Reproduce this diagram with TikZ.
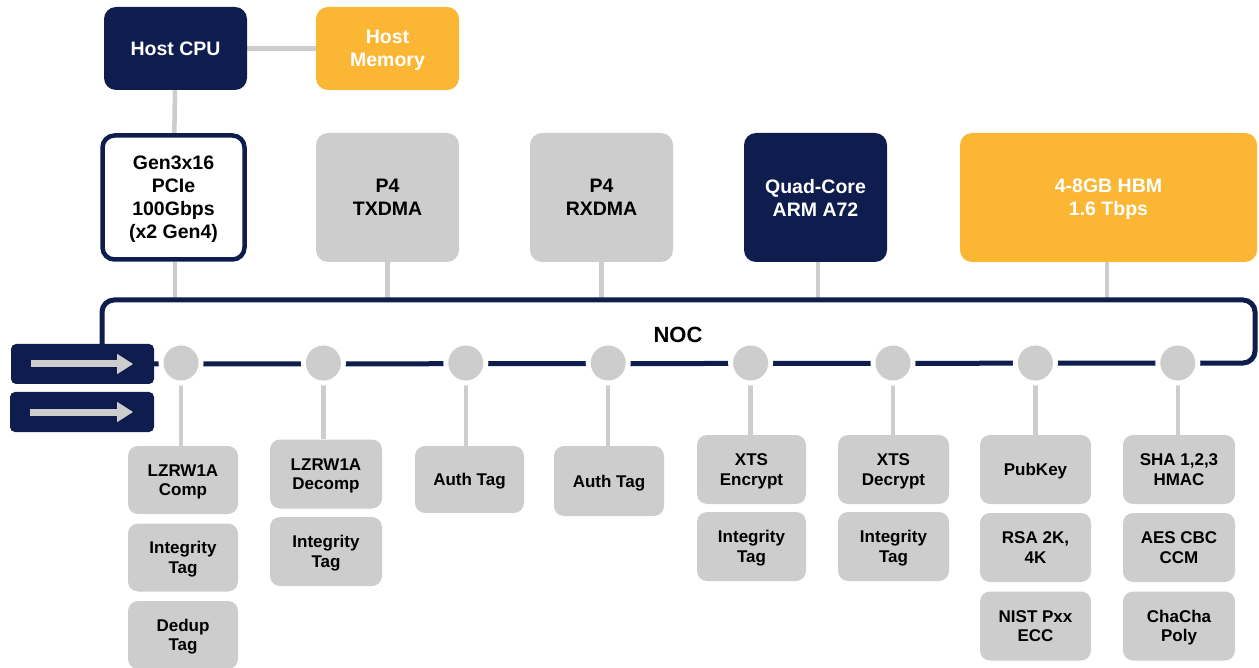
\documentclass[tikz,border=0pt]{standalone}
\usepackage{fontspec}
\setmainfont{Liberation Sans}
\usetikzlibrary{arrows.meta}
\definecolor{navy}{RGB}{14,29,78}
\definecolor{orng}{RGB}{251,182,52}
\definecolor{cgray}{RGB}{205,205,205}
\pgfdeclarelayer{bg}
\pgfsetlayers{bg,main}
\begin{document}
\begin{tikzpicture}[x=1pt,y=-1pt,
  bigbox/.style={rounded corners=12pt, minimum width=143pt, minimum height=129pt, inner sep=0pt, align=center, text depth=-3pt, font=\fontsize{19.5}{23}\selectfont\bfseries},
  navybox/.style={bigbox, fill=navy, text=white},
  orngbox/.style={bigbox, fill=orng, text=white},
  graybox/.style={bigbox, fill=cgray, text=black},
  smallbox/.style={rounded corners=10pt, fill=cgray, minimum width=110pt, minimum height=68pt, inner sep=0pt, align=center, text depth=-4pt, font=\fontsize{17}{19.5}\selectfont\bfseries},
  arrbox/.style={rounded corners=5pt, fill=navy, minimum width=143pt, minimum height=40pt, inner sep=0pt},
  dot/.style={circle, minimum size=35pt, inner sep=0pt, fill=cgray, preaction={draw=white, line width=10pt}},
  gline/.style={draw=cgray, line width=4.5pt},
  nline/.style={draw=navy, line width=5pt},
  garrow/.style={draw=cgray, line width=7pt, -{Triangle[length=16pt,width=19pt]}}
]
\useasboundingbox (0,0) rectangle (1259,668);
% top boxes
\node[navybox, minimum height=83pt] (cpu) at (175.5,48.5) {Host CPU};
\node[orngbox, minimum height=83pt] (mem) at (387.5,48.5) {Host\\Memory};
\node[bigbox, fill=white, draw=navy, line width=4.5pt, minimum width=142pt, minimum height=124pt] (pcie) at (173.5,197.5) {Gen3x16\\PCIe\\100Gbps\\(x2 Gen4)};
\node[graybox] (tx) at (387.5,197.5) {P4\\TXDMA};
\node[graybox] (rx) at (601.5,197.5) {P4\\RXDMA};
\node[navybox] (arm) at (815.5,197.5) {Quad-Core\\ARM A72};
\node[orngbox, minimum width=297pt] (hbm) at (1108.5,197.5) {4-8GB HBM\\1.6 Tbps};
\coordinate (noctop) at (0,300);
\node[font=\fontsize{22}{26}\selectfont\bfseries, text depth=0pt] (noc) at (678,334.5) {NOC};
% arrow boxes
\node[arrbox] (ar1) at (82.5,364) {};
\node[arrbox, minimum width=144pt] (ar2) at (82,412) {};
\draw[garrow] ([xshift=20pt]ar1.west) -- ([xshift=-21pt]ar1.east);
\draw[garrow] ([xshift=20pt]ar2.west) -- ([xshift=-21pt]ar2.east);
% circles
\foreach \i/\x in {1/181,2/323.4,3/465.8,4/608.2,5/750.6,6/893,7/1035.4,8/1177.8}{
  \node[dot] (c\i) at (\x,363) {};
}
% small boxes
\node[smallbox] (a1) at (183,480) {LZRW1A\\Comp};
\node[smallbox] (a2) at (183,557.5) {Integrity\\Tag};
\node[smallbox] (a3) at (183,635) {Dedup\\Tag};
\node[smallbox, minimum width=112pt, minimum height=69pt] (b1) at (326,474) {LZRW1A\\Decomp};
\node[smallbox, minimum width=112pt, minimum height=69pt] (b2) at (326,551.5) {Integrity\\Tag};
\node[smallbox, minimum width=109pt, minimum height=67pt] (d1) at (469.5,479.5) {Auth Tag};
\node[smallbox, minimum height=70pt] (e1) at (609,481) {Auth Tag};
\node[smallbox, minimum width=109pt, minimum height=69pt] (f1) at (751.5,469.5) {XTS\\Encrypt};
\node[smallbox, minimum width=109pt, minimum height=69pt] (f2) at (751.5,546.5) {Integrity\\Tag};
\node[smallbox, minimum width=111pt, minimum height=69pt] (g1) at (893.5,469.5) {XTS\\Decrypt};
\node[smallbox, minimum width=111pt, minimum height=69pt] (g2) at (893.5,546.5) {Integrity\\Tag};
\node[smallbox, minimum width=111pt, minimum height=69pt] (h1) at (1035.5,469.5) {PubKey};
\node[smallbox, minimum width=111pt, minimum height=69pt] (h2) at (1035.5,547.5) {RSA 2K,\\4K};
\node[smallbox, minimum width=111pt, minimum height=69pt] (h3) at (1035.5,626) {NIST Pxx\\ECC};
\node[smallbox, minimum width=112pt, minimum height=69pt] (k1) at (1179,469.5) {SHA 1,2,3\\HMAC};
\node[smallbox, minimum width=112pt, minimum height=69pt] (k2) at (1179,547.5) {AES CBC\\CCM};
\node[smallbox, minimum width=112pt, minimum height=69pt] (k3) at (1179,626) {ChaCha\\Poly};
% connectors
\begin{pgfonlayer}{bg}
\draw[gline] (cpu) -- (mem);
\draw[gline] (cpu) -- (pcie);
\draw[gline] ([xshift=1.5pt]pcie.south) -- ([xshift=1.5pt]pcie.south |- noctop);
\draw[gline] (tx.south) -- (tx.south |- noctop);
\draw[gline] (rx.south) -- (rx.south |- noctop);
\draw[gline] ([xshift=2.5pt]arm.south) -- ([xshift=2.5pt]arm.south |- noctop);
\draw[gline] ([xshift=-1.5pt]hbm.south) -- ([xshift=-1.5pt]hbm.south |- noctop);
\draw[nline, rounded corners=12pt] (ar1.north -| 102,0) -- (102,300) -- (1255,300) -- (1255,363) -- (ar1.east);
\foreach \c/\b in {c1/a1,c2/b1,c3/d1,c4/e1,c5/f1,c6/g1,c7/h1,c8/k1}{
  \draw[gline] (\c.center) -- (\c.center |- \b.north);
}
\end{pgfonlayer}
\end{tikzpicture}
\end{document}
